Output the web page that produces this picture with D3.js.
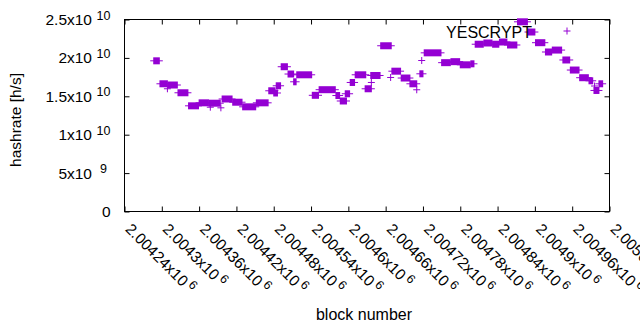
<!DOCTYPE html>
<html>
<head>
<meta charset="utf-8">
<script src="https://cdn.jsdelivr.net/npm/d3@7"></script>
<style>
  html, body { margin: 0; padding: 0; background: #fff; }
  svg { display: block; }
  text { font-family: "Liberation Sans", Arial, sans-serif; fill: #000; }
</style>
</head>
<body>
<svg id="chart" width="640" height="330"></svg>
<script>
// ---- data: runs of consecutive blocks sharing one hashrate estimate ----
const runStart = [2004287,2004297,2004309,2004310,2004326,2004343,2004360,2004376,2004378,2004395,
  2004397,2004414,2004430,2004452,2004472,2004480,2004484,2004492,2004503,2004512,
  2004517,2004542,2004553,2004580,2004587,2004595,2004603,2004611,2004627,2004637,
  2004636,2004652,2004668,2004670,2004685,2004699,2004710,2004715,2004718,2004722,
  2004750,2004765,2004780,2004797,2004804,2004818,2004832,2004843,2004856,2004872,
  2004889,2004901,2004917,2004928,2004945,2004957,2004972,2004987,2004996,2004995,
  2005003];
const runEnd = [2004296,2004309,2004309,2004325,2004342,2004359,2004375,2004394,2004378,2004395,
  2004413,2004429,2004451,2004471,2004482,2004486,2004491,2004502,2004512,2004516,
  2004541,2004552,2004579,2004586,2004597,2004602,2004610,2004628,2004637,2004637,
  2004651,2004669,2004668,2004684,2004699,2004710,2004710,2004720,2004718,2004749,
  2004764,2004779,2004796,2004802,2004817,2004831,2004842,2004855,2004871,2004888,
  2004900,2004916,2004927,2004943,2004956,2004971,2004986,2004993,2004996,2005003,
  2005009];
const runRate = [1.962e10,1.663e10,1.598e10,1.647e10,1.546e10,1.376e10,1.415e10,1.410e10,1.358e10,1.350e10,
  1.465e10,1.423e10,1.363e10,1.415e10,1.572e10,1.543e10,1.637e10,1.885e10,1.790e10,1.689e10,
  1.780e10,1.513e10,1.586e10,1.510e10,1.439e10,1.533e10,1.680e10,1.780e10,1.598e10,1.680e10,
  1.771e10,2.158e10,1.745e10,1.827e10,1.738e10,1.663e10,1.585e10,1.793e10,1.966e10,2.066e10,
  1.938e10,1.951e10,1.910e10,1.923e10,2.178e10,2.194e10,2.178e10,2.207e10,2.168e10,2.470e10,
  2.337e10,2.198e10,2.077e10,2.102e10,1.973e10,1.842e10,1.742e10,1.702e10,1.634e10,1.576e10,
  1.663e10];

const seriesName = "YESCRYPT";
const xTickValues = [2004240,2004300,2004360,2004420,2004480,2004540,2004600,2004660,2004720,2004780,2004840,2004900,2004960,2005020];
const xTickMain = ["2.00424x10","2.0043x10","2.00436x10","2.00442x10","2.00448x10","2.00454x10","2.0046x10","2.00466x10","2.00472x10","2.00478x10","2.00484x10","2.0049x10","2.00496x10","2.00502x10"];
const xTickExp = ["6","6","6","6","6","6","6","6","6","6","6","6","6","6"];
const yTickValues = [0, 5e9, 1e10, 1.5e10, 2e10, 2.5e10];
const yTickMain = ["0","5x10","1x10","1.5x10","2x10","2.5x10"];
const yTickExp = ["","9","10","10","10","10"];
const xTitle = "block number";
const yTitle = "hashrate [h/s]";

// ---- layout ----
const color = "#9400d3";
const L = 124.5, R = 609.5, T = 19.5, B = 211.5;
const H = 3.5; // half size of "+" marker
const fs = 15.5;

const svg = d3.select("#chart");
const x = d3.scaleLinear().domain([2004240, 2005020]).range([L, R]);
const y = d3.scaleLinear().domain([0, 2.5e10]).range([B, T]);

// axes (ticks inward, mirrored)
const tickLen = 5;
const axG = svg.append("g");
axG.append("g").attr("transform", `translate(0,${B})`)
  .call(d3.axisBottom(x).tickValues(xTickValues).tickSizeInner(-tickLen).tickSizeOuter(0).tickFormat(""));
axG.append("g").attr("transform", `translate(0,${T})`)
  .call(d3.axisTop(x).tickValues(xTickValues).tickSizeInner(-tickLen).tickSizeOuter(0).tickFormat(""));
axG.append("g").attr("transform", `translate(${L},0)`)
  .call(d3.axisLeft(y).tickValues(yTickValues).tickSizeInner(-tickLen).tickSizeOuter(0).tickFormat(""));
axG.append("g").attr("transform", `translate(${R},0)`)
  .call(d3.axisRight(y).tickValues(yTickValues).tickSizeInner(-tickLen).tickSizeOuter(0).tickFormat(""));
axG.selectAll(".domain").remove();
axG.selectAll("line").attr("stroke", "#000").attr("stroke-width", 1);
svg.append("rect").attr("x", L).attr("y", T).attr("width", R - L).attr("height", B - T)
  .attr("fill", "none").attr("stroke", "#000").attr("stroke-width", 1);

// y tick labels
yTickValues.forEach((v, i) => {
  const yy = y(v) + 5.5;
  if (yTickExp[i]) {
    svg.append("text").attr("x", 92).attr("y", yy).attr("text-anchor", "end")
      .attr("font-size", fs).text(yTickMain[i]);
    svg.append("text").attr("x", 103.5).attr("y", yy - 5.5).attr("text-anchor", "middle")
      .attr("font-size", 12.5).text(yTickExp[i]);
  } else {
    svg.append("text").attr("x", 110.5).attr("y", yy).attr("text-anchor", "end")
      .attr("font-size", fs).text(yTickMain[i]);
  }
});

// x tick labels, rotated
xTickValues.forEach((v, i) => {
  const t = svg.append("text")
    .attr("transform", `translate(${x(v)},230) rotate(45)`)
    .attr("font-size", fs);
  t.append("tspan").text(xTickMain[i]);
  t.append("tspan").attr("dx", 3).attr("dy", -5.5).attr("font-size", 12.5).text(xTickExp[i]);
});

// axis titles
svg.append("text").attr("x", 364).attr("y", 320).attr("text-anchor", "middle")
  .attr("font-size", 16).text(xTitle);
svg.append("text").attr("transform", "translate(21,120) rotate(-90)")
  .attr("text-anchor", "middle").attr("font-size", fs).text(yTitle);

// data: each run = row of "+" markers -> filled body + horizontal arms
const runs = runStart.map((s, i) => ({ s, e: runEnd[i], r: runRate[i] }));
const g = svg.append("g");
g.selectAll("rect.run").data(runs).join("rect")
  .attr("class", "run")
  .attr("x", d => x(d.s) - 0.5)
  .attr("width", d => x(d.e) - x(d.s) + 1)
  .attr("y", d => y(d.r) - H)
  .attr("height", 2 * H)
  .attr("fill", color);
g.selectAll("line.run").data(runs).join("line")
  .attr("class", "run")
  .attr("x1", d => x(d.s) - H).attr("x2", d => x(d.e) + H)
  .attr("y1", d => y(d.r)).attr("y2", d => y(d.r))
  .attr("stroke", color).attr("stroke-width", 1);

// key
svg.append("text").attr("x", 532).attr("y", 37.5).attr("text-anchor", "end")
  .attr("font-size", 16).text(seriesName);
const kx = 567, ky = 31;
svg.append("line").attr("x1", kx - H).attr("x2", kx + H).attr("y1", ky).attr("y2", ky)
  .attr("stroke", color).attr("stroke-width", 1);
svg.append("line").attr("x1", kx).attr("x2", kx).attr("y1", ky - H).attr("y2", ky + H)
  .attr("stroke", color).attr("stroke-width", 1);
</script>
</body>
</html>
